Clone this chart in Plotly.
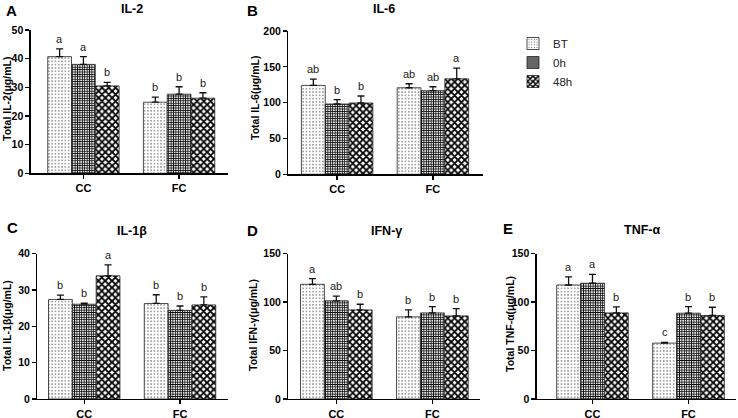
import plotly.graph_objects as go

# ---------------- data ----------------
categories = ["CC", "FC"]
series_names = ["BT", "0h", "48h"]

il2_mean = [[40.7, 24.8], [38.0, 27.6], [30.5, 26.2]]
il2_err = [[2.7, 1.8], [2.7, 2.6], [1.2, 1.9]]
il2_sig = [["a", "b"], ["a", "b"], ["b", "b"]]

il6_mean = [[124.1, 120.8], [98.1, 116.7], [99.5, 133.3]]
il6_err = [[8.8, 5.6], [6.1, 5.5], [9.8, 14.8]]
il6_sig = [["ab", "ab"], ["b", "ab"], ["b", "a"]]

il1b_mean = [[27.4, 26.3], [26.1, 24.4], [33.9, 25.9]]
il1b_err = [[1.2, 2.4], [0.3, 1.2], [3.0, 2.2]]
il1b_sig = [["b", "b"], ["b", "b"], ["a", "b"]]

ifng_mean = [[118.4, 84.8], [101.3, 88.9], [92.0, 85.8]]
ifng_err = [[5.9, 7.2], [4.8, 6.5], [5.8, 7.6]]
ifng_sig = [["a", "b"], ["ab", "b"], ["b", "b"]]

tnfa_mean = [[117.7, 57.7], [119.5, 88.6], [88.9, 86.2]]
tnfa_err = [[8.3, 0.7], [9.2, 6.8], [6.2, 8.5]]
tnfa_sig = [["a", "c"], ["a", "b"], ["b", "b"]]

panel_letters = ["A", "B", "C", "D", "E"]
panel_titles = ["IL-2", "IL-6", "IL-1β", "IFN-γ", "TNF-α"]
y_titles = ["Total IL-2(μg/mL)", "Total IL-6(μg/mL)", "Total IL-1β(μg/mL)",
            "Total IFN-γ(μg/mL)", "Total TNF-α(μg/mL)"]
y_max = [50, 200, 40, 150, 150]
y_step = [10, 50, 10, 50, 50]

means = [il2_mean, il6_mean, il1b_mean, ifng_mean, tnfa_mean]
errs = [il2_err, il6_err, il1b_err, ifng_err, tnfa_err]
sigs = [il2_sig, il6_sig, il1b_sig, ifng_sig, tnfa_sig]

# ---------------- geometry (pixels) ----------------
W, H = 738, 418
px_x = [(30.7, 227.7), (288.3, 483.0), (37.3, 228.3), (288.3, 480.0), (536.7, 736.0)]
px_y = [(30.0, 173.3), (31.0, 174.3), (253.7, 399.0), (253.7, 399.0), (253.7, 399.0)]
x_ranges = [(-0.551, 1.508), (-0.51, 1.523), (-0.49, 1.504), (-0.5, 1.496), (-0.581, 1.495)]
letter_pos = [(11, 11), (253, 11), (12.5, 227.5), (253, 230), (508, 228.7)]
title_pos = [(132, 8.5), (384, 8.5), (131.7, 230.5), (386.7, 230.5), (641.7, 230)]
ytitle_pos = [(7, 99), (255, 98), (7, 326), (253, 325), (510, 324)]

BARGAP = 0.254
FONT = "Liberation Sans, Arial, sans-serif"

patterns = [
    dict(shape=".", fgcolor="#777777", bgcolor="white", size=3.3, solidity=0.16, fillmode="replace"),
    dict(shape="+", fgcolor="#111111", bgcolor="white", size=2.4, solidity=0.65, fillmode="replace"),
    dict(shape="x", fgcolor="#000000", bgcolor="white", size=4.8, solidity=0.62, fillmode="replace"),
]


def fx(px):
    return px / W


def fy(py):
    return 1 - py / H


fig = go.Figure()
annotations = []
layout_axes = {}
bar_w = (1 - BARGAP) / 3

for p in range(5):
    xname = "x" if p == 0 else f"x{p + 1}"
    yname = "y" if p == 0 else f"y{p + 1}"
    for s in range(3):
        fig.add_trace(go.Bar(
            x=categories, y=means[p][s], name=series_names[s],
            legendgroup=series_names[s], showlegend=(p == 0),
            xaxis=xname, yaxis=yname,
            marker=dict(color="white", line=dict(color="#222222", width=0.8),
                        pattern=patterns[s]),
            error_y=dict(type="data", array=errs[p][s], arrayminus=[0] * len(categories),
                         symmetric=False, color="#111111", thickness=1.3, width=3.5),
        ))
        for c in range(len(categories)):
            annotations.append(dict(
                x=c + (s - 1) * bar_w, y=means[p][s][c] + errs[p][s][c],
                xref=xname, yref=yname, text=sigs[p][s][c], showarrow=False,
                yanchor="bottom", yshift=2,
                font=dict(family=FONT, size=11, color="#1a1a1a"),
            ))

    xa = dict(domain=[fx(px_x[p][0]), fx(px_x[p][1])], anchor=yname,
              range=list(x_ranges[p]), type="category",
              showline=True, linecolor="black", linewidth=1.3,
              ticks="outside", ticklen=4, tickwidth=1.3, tickcolor="black",
              tickfont=dict(family=FONT, size=11, color="black", weight="bold"),
              showgrid=False, zeroline=False, automargin=False, fixedrange=True)
    ya = dict(domain=[fy(px_y[p][1]), fy(px_y[p][0])], anchor=xname,
              range=[0, y_max[p]], dtick=y_step[p], tick0=0,
              showline=True, linecolor="black", linewidth=1.3,
              ticks="outside", ticklen=4, tickwidth=1.3, tickcolor="black",
              tickfont=dict(family=FONT, size=10.5, color="black", weight="bold"),
              showgrid=False, zeroline=False, automargin=False, fixedrange=True)
    layout_axes["xaxis" if p == 0 else f"xaxis{p + 1}"] = xa
    layout_axes["yaxis" if p == 0 else f"yaxis{p + 1}"] = ya

    annotations.append(dict(x=fx(letter_pos[p][0]), y=fy(letter_pos[p][1]), xref="paper", yref="paper",
                            text=panel_letters[p], showarrow=False, xanchor="center", yanchor="middle",
                            font=dict(family=FONT, size=15, color="black", weight="bold")))
    annotations.append(dict(x=fx(title_pos[p][0]), y=fy(title_pos[p][1]), xref="paper", yref="paper",
                            text=panel_titles[p], showarrow=False, xanchor="center", yanchor="middle",
                            font=dict(family=FONT, size=12.5, color="black", weight="bold")))
    annotations.append(dict(x=fx(ytitle_pos[p][0]), y=fy(ytitle_pos[p][1]), xref="paper", yref="paper",
                            text=y_titles[p], showarrow=False, textangle=-90,
                            xanchor="center", yanchor="middle",
                            font=dict(family=FONT, size=10.5, color="black", weight="bold")))

fig.update_layout(
    width=W, height=H, margin=dict(l=0, r=0, t=0, b=0),
    paper_bgcolor="white", plot_bgcolor="white",
    barmode="group", bargap=BARGAP, bargroupgap=0,
    hovermode=False,
    legend=dict(x=fx(513), y=fy(29), xanchor="left", yanchor="top",
                font=dict(family=FONT, size=11.5, color="#222222"),
                bgcolor="rgba(0,0,0,0)", traceorder="normal"),
    annotations=annotations,
    **layout_axes,
)

fig.write_html("out.html", config={"displayModeBar": False, "staticPlot": True},
               post_script="document.body.style.margin='0';document.body.style.padding='0';")
